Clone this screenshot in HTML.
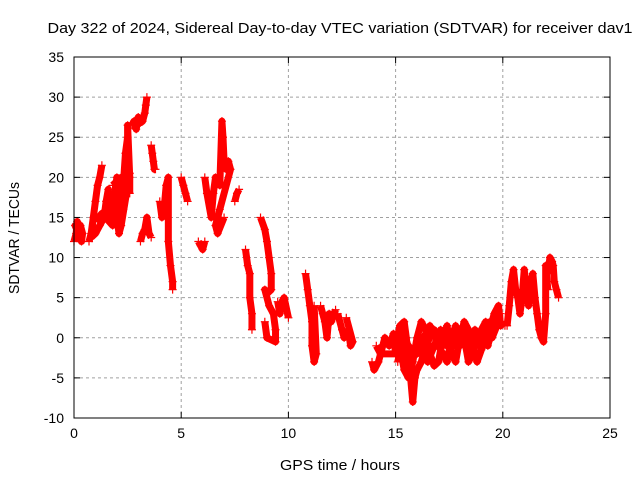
<!DOCTYPE html>
<html><head><meta charset="utf-8"><style>
body{margin:0;background:#fff}
svg{display:block;font-family:"Liberation Sans",sans-serif}
</style></head><body>
<svg id="chart" width="640" height="480" xmlns="http://www.w3.org/2000/svg">
<rect width="640" height="480" fill="#fff"/>
<text x="340" y="33" font-size="15" text-anchor="middle" textLength="585" lengthAdjust="spacingAndGlyphs">Day 322 of 2024, Sidereal Day-to-day VTEC variation (SDTVAR) for receiver dav1</text>
<text x="340" y="470" font-size="15" text-anchor="middle" textLength="120" lengthAdjust="spacingAndGlyphs">GPS time / hours</text>
<text transform="translate(19,238) rotate(-90)" font-size="15" text-anchor="middle" textLength="112" lengthAdjust="spacingAndGlyphs">SDTVAR / TECUs</text>
<g id="grid"></g><g id="marks"></g><g id="axes"></g>
</svg>
<script>
const xTicks=[0,5,10,15,20,25];
const yTicks=[-10,-5,0,5,10,15,20,25,30,35];
const traceA=[[0.0,12],[0.1,13],[0.15,14.5],[0.2,12.5],[0.3,14],[0.4,13],[0.35,12],[0.05,14],[0.25,13.5]];
const traceB=[[0.7,12],[0.8,13],[0.9,15],[1.0,17],[1.1,19],[1.2,20],[1.3,21.5]];
const traceC=[[0.8,12.5],[1.0,13],[1.2,14],[1.4,15],[1.5,17],[1.6,18.5],[1.7,15],[1.8,14],[1.3,15.5],[1.0,14.5]];
const traceD=[[1.8,16],[1.9,18],[2.0,20],[2.1,17],[2.2,15],[2.3,19],[2.4,23],[2.5,25],[2.5,26.5],[2.6,20],[2.6,18]];
const traceE=[[1.8,19],[2.0,19.5],[2.2,20],[2.5,19],[2.6,20.5],[2.2,14],[2.1,13],[1.9,17],[2.3,16]];
const traceF=[[2.7,26.5],[2.8,27],[2.9,26],[3.0,27.5],[3.1,26.8],[3.2,27],[3.3,28],[3.35,29],[3.4,30]];
const traceG=[[3.6,24],[3.65,23],[3.7,22],[3.75,21],[3.8,21]];
const traceH=[[3.1,12],[3.2,13],[3.3,13.5],[3.4,15],[3.5,13],[3.6,12.5]];
const traceI=[[4.0,17],[4.1,15],[4.2,16],[4.3,19],[4.4,20],[4.4,12],[4.5,9],[4.6,7],[4.6,6]];
const traceJ=[[5.0,20],[5.1,19],[5.2,18],[5.3,17]];
const traceK=[[5.8,12],[5.9,11.5],[6.0,11],[6.1,12]];
const traceL=[[6.1,20],[6.2,18],[6.4,15],[6.5,18],[6.6,20],[6.8,19],[6.9,27],[6.95,25],[7.0,22],[7.1,21],[7.2,22],[7.3,21],[6.8,16],[6.6,14],[6.7,13],[7.0,15]];
const traceM=[[7.5,17],[7.6,18],[7.7,18.5]];
const traceN=[[8.0,11],[8.1,9],[8.2,8],[8.2,5],[8.3,3],[8.3,1]];
const traceO=[[8.7,15],[8.9,13.5],[9.0,12],[9.1,10],[9.2,8],[9.2,6],[9.0,5.5],[8.9,6],[9.1,4],[9.3,3],[9.4,1],[9.4,-0.5],[9.0,0],[8.9,2]];
const traceP=[[9.5,4.5],[9.6,3],[9.7,4.5],[9.8,5],[10.0,2.5]];
const traceQ=[[10.8,8],[10.9,6],[11.0,4],[11.1,2],[11.1,-1],[11.2,-3],[11.3,-2],[11.2,4]];
const traceR=[[11.5,4],[11.6,3],[11.7,2],[11.8,0],[11.9,3],[12.0,2],[12.2,3.5]];
const traceS=[[12.3,3],[12.5,1],[12.6,0],[12.8,1],[12.9,-1],[13.0,-0.5],[12.7,2.5]];
const traceT=[[13.9,-3],[14.0,-4],[14.2,-3],[14.4,-1],[14.5,0],[14.7,-1],[14.9,0.5],[15.0,-2],[14.3,-2],[14.1,-1]];
const traceU=[[15.0,-1],[15.2,1.5],[15.4,2],[15.5,0],[15.6,-3],[15.7,-5],[15.8,-8],[15.9,-5],[16.0,-4],[16.2,-3],[16.4,-1],[16.6,0],[16.8,1],[17.0,-1],[17.2,-2],[17.4,-3],[17.6,0],[17.8,1.5],[18.0,-1],[18.2,0],[18.4,-3],[18.6,-2],[18.8,0],[19.0,1],[19.2,2],[19.4,1],[19.6,3],[19.8,4],[19.9,1.5],[20.0,2]];
const traceV=[[15.2,-1],[15.4,-4],[15.6,-5],[15.8,-3],[16.0,0],[16.2,2],[16.4,1],[16.6,-2],[16.8,-3.5],[17.0,-3],[17.2,0],[17.4,1.5],[17.6,-2],[17.8,-3],[18.0,0],[18.2,2],[18.4,1],[18.6,-1],[18.8,-3],[19.0,-1.5],[19.2,0],[19.4,2],[19.6,1]];
const traceY=[[15.0,0],[15.3,-2],[15.6,-1],[15.9,-2],[16.2,-1],[16.5,-3],[16.8,-1],[17.1,1],[17.4,-1],[17.7,-1],[18.0,1],[18.3,-1],[18.6,0.5],[18.9,-1],[19.2,1],[19.5,0],[19.8,2],[20.1,1.5]];
const traceZ=[[15.1,-3],[15.4,0.5],[15.7,-2],[16.0,-2],[16.3,0],[16.6,1.5],[16.9,0],[17.2,-1],[17.5,0],[17.8,-1],[18.1,1],[18.4,-1.5],[18.7,1],[19.0,0],[19.3,-1],[19.6,2],[19.9,3]];
const traceW=[[20.2,1.5],[20.3,4],[20.4,7],[20.5,8.5],[20.6,6],[20.7,5],[20.8,3],[20.9,5],[21.0,8.5],[21.1,6],[21.2,4],[21.3,7],[21.4,8],[21.5,5],[21.6,3],[21.7,1],[21.8,0],[21.9,-0.5],[22.0,3],[22.0,9],[22.1,6]];
const traceX=[[22.1,8],[22.2,10],[22.3,9.5],[22.35,9],[22.4,7],[22.5,6],[22.6,5]];
const traces=[traceA,traceB,traceC,traceD,traceE,traceF,traceG,traceH,traceI,traceJ,traceK,traceL,traceM,traceN,traceO,traceP,traceQ,traceR,traceS,traceT,traceU,traceV,traceY,traceZ,traceW,traceX];
const L=74,R=610,T=57,B=418,xMin=0,xMax=25,yMin=-10,yMax=35;
const sx=v=>L+(v-xMin)/(xMax-xMin)*(R-L);
const sy=v=>B-(v-yMin)/(yMax-yMin)*(B-T);
const NS="http://www.w3.org/2000/svg";
function mk(tag,at,parent){const e=document.createElementNS(NS,tag);for(const k in at)e.setAttribute(k,at[k]);parent.appendChild(e);return e;}
const grid=document.getElementById('grid'),axes=document.getElementById('axes'),marks=document.getElementById('marks');
xTicks.forEach(t=>{const x=sx(t);
 if(t>xMin&&t<xMax){const g=mk('line',{x1:x,x2:x,y1:T,y2:B,stroke:'#a0a0a0','stroke-dasharray':'3,3'},grid);
 
 }
 mk('line',{x1:x,x2:x,y1:B,y2:B-6,stroke:'#000'},axes);mk('line',{x1:x,x2:x,y1:T,y2:T+6,stroke:'#000'},axes);
 const l=mk('text',{x:x,y:B+20,'font-size':'14','text-anchor':'middle'},axes);l.textContent=t;
 
 });
yTicks.forEach(t=>{const y=sy(t);
 if(t>yMin&&t<yMax){const g=mk('line',{x1:L,x2:R,y1:y,y2:y,stroke:'#a0a0a0','stroke-dasharray':'3,3'},grid);
 
 }
 mk('line',{x1:L,x2:L+6,y1:y,y2:y,stroke:'#000'},axes);mk('line',{x1:R,x2:R-6,y1:y,y2:y,stroke:'#000'},axes);
 const l=mk('text',{x:L-10,y:y+5,'font-size':'14','text-anchor':'end'},axes);l.textContent=t;
 
 });
const frame=mk('rect',{x:L,y:T,width:R-L,height:B-T,fill:'none',stroke:'#000'},axes);


traces.forEach(tr=>{
 const p=mk('polyline',{points:tr.map(d=>sx(d[0])+','+sy(d[1])).join(' '),fill:'none',stroke:'#f00','stroke-width':'7','stroke-linejoin':'round'},marks);
 
 
 tr.forEach(d=>{const x=sx(d[0]),y=sy(d[1]);
  const m=mk('path',{d:`M${x-4},${y}H${x+4}M${x},${y-4}V${y+4}`,stroke:'#f00','stroke-width':'1.2'},marks);
  
  });
});
</script>
</body></html>
